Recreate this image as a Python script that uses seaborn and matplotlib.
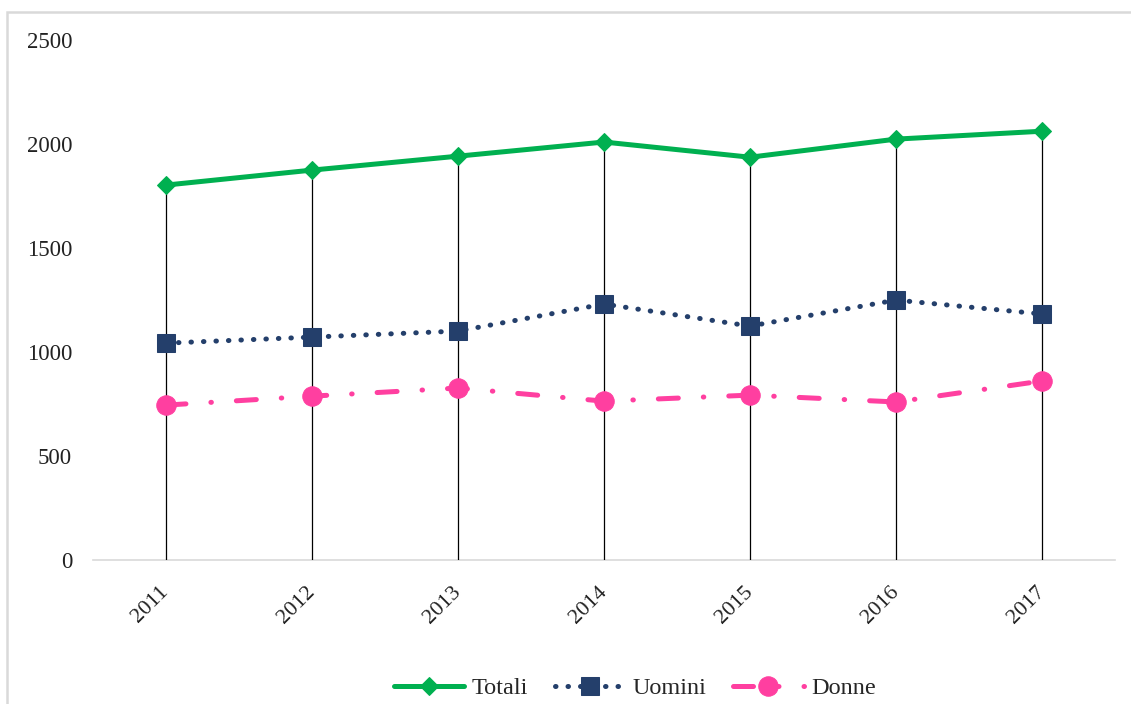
import matplotlib
matplotlib.use("Agg")
import matplotlib.pyplot as plt
import seaborn as sns
import pandas as pd
from matplotlib.patches import Rectangle

# data
years = [2011, 2012, 2013, 2014, 2015, 2016, 2017]
totali = [1803, 1875, 1942, 2010, 1937, 2024, 2062]
uomini = [1043, 1072, 1101, 1231, 1125, 1250, 1183]
donne = [745, 788, 827, 764, 793, 760, 861]
y_ticks = [0, 500, 1000, 1500, 2000, 2500]

sns.set_theme(style="white")
plt.rcParams['font.family'] = ['Liberation Serif', 'DejaVu Serif']

df = pd.DataFrame({"anno": years, "Totali": totali, "Uomini": uomini, "Donne": donne})

fig = plt.figure(figsize=(11.31, 7.04), dpi=100)
ax = fig.add_axes([0.0822, 0.2045, 0.9037, 0.7385])

# drop lines from the top series to the axis
ax.vlines(df["anno"], 0, df["Totali"], colors="black", linewidth=0.9, zorder=1)

sns.lineplot(data=df, x="anno", y="Totali", ax=ax, color="#00B050", linewidth=3.6,
             marker="D", markersize=9.5, markeredgecolor="#00B050", label="Totali", zorder=3)
sns.lineplot(data=df, x="anno", y="Uomini", ax=ax, color="#243F6B", linewidth=3.6,
             linestyle=(0, (0.1, 2.4)), dash_capstyle="round",
             marker="s", markersize=12.5, markeredgecolor="#243F6B", label="Uomini", zorder=3)
sns.lineplot(data=df, x="anno", y="Donne", ax=ax, color="#FF3FA0", linewidth=3.6,
             linestyle=(0, (4, 5, 0.1, 5)), dash_capstyle="round",
             marker="o", markersize=14, markeredgecolor="#FF3FA0", label="Donne", zorder=3)

ax.set_xlim(2010.5, 2017.5)
ax.set_ylim(0, 2500)
ax.set_xticks(years)
ax.set_xticklabels([str(y) for y in years], rotation=45, ha="right", va="center",
                   rotation_mode="anchor", fontsize=16, color="#222222")
ax.set_yticks(y_ticks)
ax.set_yticklabels([str(v) for v in y_ticks], fontsize=16.5, color="#222222")
ax.tick_params(axis="y", length=0, pad=15)
ax.tick_params(axis="x", length=0, pad=21)
ax.set_xlabel("")
ax.set_ylabel("")

for side in ["top", "right", "left"]:
    ax.spines[side].set_visible(False)
ax.spines["bottom"].set_color("#D9D9D9")
ax.spines["bottom"].set_linewidth(1.2)
ax.spines["bottom"].set_zorder(0)

leg = ax.legend(loc="center", bbox_to_anchor=(0.53, -0.247), ncol=3, frameon=False,
                fontsize=17.5, handlelength=2.9, columnspacing=1.1, handletextpad=0.3)

# outer light gray frame
fig.patches.append(Rectangle((0.006, -0.02), 1.1, 1.003, transform=fig.transFigure,
                             fill=False, edgecolor="#D9D9D9", linewidth=1.8))

fig.savefig("out.png", dpi=100)
